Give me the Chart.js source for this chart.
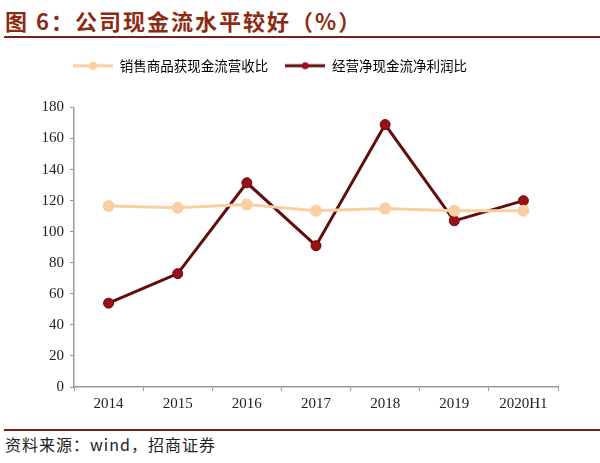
<!DOCTYPE html>
<html>
<head>
<meta charset="utf-8">
<script src="https://cdn.jsdelivr.net/npm/chart.js@4.4.1/dist/chart.umd.min.js"></script>
<style>
  html, body { margin: 0; padding: 0; background: #fff; }
  #page { position: relative; width: 600px; height: 463px; overflow: hidden; }
  #title { position: absolute; left: 5px; top: 4px; font: bold 22px "Noto Sans CJK SC", sans-serif; letter-spacing: 2px; color: #8C2A12; white-space: nowrap; }
  #titleRule { position: absolute; left: 4px; right: 0; top: 36px; height: 2px; background: #7A1E1E; }
  #chartBox { position: absolute; left: 0; top: 42px; width: 600px; height: 383px; }
  #footRule { position: absolute; left: 4px; right: 0; top: 429px; height: 2px; background: #7A1E1E; }
  #source { position: absolute; left: 5px; top: 432px; font: 16px "Noto Sans CJK SC", sans-serif; letter-spacing: 1px; color: #222; white-space: nowrap; }
</style>
</head>
<body>
<div id="page">
  <div id="title">图 6：公司现金流水平较好（%）</div>
  <div id="titleRule"></div>
  <div id="chartBox"><canvas id="cashChart"></canvas></div>
  <div id="footRule"></div>
  <div id="source">资料来源：wind，招商证券</div>
</div>
<script>
// data
const years = ['2014', '2015', '2016', '2017', '2018', '2019', '2020H1'];
const salesCashRatio = [116.5, 115.5, 117.5, 113.5, 115, 113.5, 113.5];
const opCashProfitRatio = [54, 73, 131.5, 91, 169, 107, 120];
const seriesNames = ['销售商品获现金流营收比', '经营净现金流净利润比'];

const lightColor = '#F9CFA2';
const darkLine = '#620C0C';
const darkDot = '#9A1016';

// small line+dot swatch for the legend
function makeSwatch(line, dot, r) {
  const c = document.createElement('canvas');
  c.width = 40; c.height = 12;
  const g = c.getContext('2d');
  g.strokeStyle = line; g.lineWidth = 3;
  g.beginPath(); g.moveTo(0, 6); g.lineTo(40, 6); g.stroke();
  g.fillStyle = dot;
  g.beginPath(); g.arc(20, 6, r, 0, Math.PI * 2); g.fill();
  return c;
}
const swatches = [makeSwatch(lightColor, lightColor, 4), makeSwatch(darkLine, darkDot, 3.5)];

// push the plot down below the legend, and nudge the legend a bit left
const legendGap = {
  id: 'legendGap',
  beforeInit(chart) {
    const fit = chart.legend.fit;
    chart.legend.fit = function() {
      fit.bind(chart.legend)();
      this.height += 25;
    };
  },
  afterLayout(chart) {
    chart.legend.right -= 26;
  }
};

const tickFont = { family: '"Liberation Serif", serif', size: 15 };

const ctx = document.getElementById('cashChart').getContext('2d');
new Chart(ctx, {
  type: 'line',
  data: {
    labels: years,
    datasets: [{
      label: seriesNames[0],
      data: salesCashRatio,
      borderColor: lightColor,
      backgroundColor: lightColor,
      borderWidth: 3,
      pointRadius: 4.5,
      pointBackgroundColor: lightColor,
      pointBorderColor: lightColor,
      tension: 0
    }, {
      label: seriesNames[1],
      data: opCashProfitRatio,
      borderColor: darkLine,
      backgroundColor: darkDot,
      borderWidth: 3,
      pointRadius: 5,
      pointBackgroundColor: darkDot,
      pointBorderColor: darkLine,
      pointBorderWidth: 1,
      tension: 0
    }]
  },
  options: {
    responsive: true,
    maintainAspectRatio: false,
    animation: false,
    layout: { padding: { left: 8, right: 42, top: 0, bottom: 8 } },
    plugins: {
      legend: {
        position: 'top',
        labels: {
          usePointStyle: true,
          pointStyleWidth: 40,
          boxWidth: 40,
          boxHeight: 12,
          padding: 17,
          color: '#333',
          font: { family: '"Noto Sans CJK SC", sans-serif', size: 13.5 },
          generateLabels: function(chart) {
            return chart.data.datasets.map(function(ds, i) {
              return {
                text: ds.label,
                pointStyle: swatches[i],
                fillStyle: ds.borderColor,
                strokeStyle: ds.borderColor,
                lineWidth: 0,
                datasetIndex: i,
                hidden: false
              };
            });
          }
        }
      },
      tooltip: { enabled: false }
    },
    scales: {
      x: {
        offset: true,
        grid: { display: true, offset: true, drawOnChartArea: false, drawTicks: true, tickLength: 4, color: '#999' },
        border: { color: '#999', width: 1.5 },
        ticks: { color: '#222', font: tickFont, padding: 4 }
      },
      y: {
        min: 0,
        max: 180,
        afterFit: function(scale) { scale.width = 66; },
        ticks: { stepSize: 20, color: '#222', font: tickFont, padding: 6 },
        grid: { display: true, drawOnChartArea: false, drawTicks: true, tickLength: 4, color: '#999' },
        border: { color: '#999', width: 1.5 }
      }
    }
  },
  plugins: [legendGap]
});
</script>
</body>
</html>
